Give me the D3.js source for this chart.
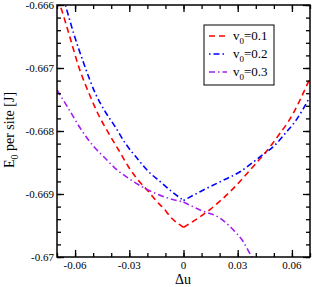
<!DOCTYPE html>
<html>
<head>
<meta charset="utf-8">
<script src="https://cdn.jsdelivr.net/npm/d3@7"></script>
<style>
  body { margin: 0; background: #fff; }
  svg { display: block; }
  text { font-family: "Liberation Serif", "Times New Roman", serif; }
</style>
</head>
<body>
<svg id="chart" width="312" height="287"></svg>
<script>
// values (each curve has a cusp at du = 0)
const red_u = [-0.07, -0.0681, -0.0635, -0.058, -0.0515, -0.047, -0.0414, -0.0359, -0.0304, -0.0249, -0.0193, -0.0147, -0.011, -0.0073, 0, 0.0148, 0.0258, 0.0369, 0.0479, 0.0534, 0.058, 0.07];
const red_e = [-0.66590, -0.666027, -0.666449, -0.666979, -0.667456, -0.667746, -0.668037, -0.668302, -0.668571, -0.668786, -0.668963, -0.669122, -0.669227, -0.669360, -0.669529, -0.669243, -0.668963, -0.668619, -0.668249, -0.668037, -0.667852, -0.667163];

const blue_u = [-0.07, -0.0654, -0.0608, -0.0552, -0.0488, -0.0433, -0.0378, -0.0322, -0.0257, -0.0193, -0.0129, -0.0064, 0, 0.0092, 0.0203, 0.0313, 0.0424, 0.0507, 0.0571, 0.0617, 0.07];
const blue_e = [-0.66560, -0.666000, -0.666449, -0.666925, -0.667402, -0.667694, -0.667932, -0.668195, -0.668433, -0.668646, -0.668805, -0.668963, -0.669103, -0.668963, -0.668805, -0.668646, -0.668408, -0.668222, -0.668011, -0.667852, -0.667456];

const purple_u = [-0.07, -0.0635, -0.0571, -0.0488, -0.0433, -0.0378, -0.0304, -0.023, -0.0156, -0.0083, 0, 0.0092, 0.0203, 0.0276, 0.0331, 0.0378, 0.041];
const purple_e = [-0.667349, -0.667651, -0.667957, -0.668275, -0.668433, -0.668592, -0.668751, -0.668884, -0.668989, -0.669068, -0.669127, -0.669254, -0.669386, -0.669571, -0.669757, -0.669995, -0.67010];

const x_ticks = [-0.06, -0.03, 0, 0.03, 0.06];
const x_labels = ["-0.06", "-0.03", "0", "0.03", "0.06"];
const y_ticks = [-0.666, -0.667, -0.668, -0.669, -0.67];
const y_labels = ["-0.666", "-0.667", "-0.668", "-0.669", "-0.67"];

const series = [
    {name: "0.1", u: red_u, e: red_e, color: "#ff0000", dash: "6,4"},
    {name: "0.2", u: blue_u, e: blue_e, color: "#0000ff", dash: "1.5,3,6,3"},
    {name: "0.3", u: purple_u, e: purple_e, color: "#a020f0", dash: "6,3,1.5,3"}
];

var svg = d3.select("#chart");

var x = d3.scaleLinear()
    .domain([-0.07, 0.07])
    .range([57, 310]);

var y = d3.scaleLinear()
    .domain([-0.67, -0.666])
    .range([257, 5]);

svg.append("clipPath").attr("id", "clip")
    .append("rect")
    .attr("x", 57).attr("y", 5)
    .attr("width", 253).attr("height", 252);

var line = d3.line()
    .x(function(d) { return x(d[0]); })
    .y(function(d) { return y(d[1]); })
    .curve(d3.curveMonotoneX);

// smooth on each side of the cusp, joined at du = 0
function cuspPath(d) {
    var pts = d.u.map(function(u, i) { return [u, d.e[i]]; });
    var left = pts.filter(function(p) { return p[0] <= 0; }),
        right = pts.filter(function(p) { return p[0] >= 0; });
    return line(left) + line(right);
}

svg.append("g")
    .attr("clip-path", "url(#clip)")
    .selectAll("path")
    .data(series)
    .enter().append("path")
    .attr("fill", "none")
    .attr("stroke", function(d) { return d.color; })
    .attr("stroke-width", 1.6)
    .attr("stroke-dasharray", function(d) { return d.dash; })
    .attr("d", cuspPath);

// axes, ticks inward on all four sides
var xMinor = d3.range(-7, 8).map(function(i) { return i / 100; });
var yMinor = d3.range(0, 21).map(function(i) { return -0.67 + i * 0.0002; });

function addAxis(axis, transform, ticks, size) {
    svg.append("g")
        .attr("transform", transform)
        .call(axis.tickValues(ticks).tickSize(size).tickFormat(""))
        .call(function(g) { g.select(".domain").remove(); })
        .selectAll("line").attr("stroke", "#000").attr("stroke-width", 1.3);
}

addAxis(d3.axisTop(x), "translate(0,257)", xMinor, 4);
addAxis(d3.axisTop(x), "translate(0,257)", x_ticks, 7);
addAxis(d3.axisBottom(x), "translate(0,5)", xMinor, 4);
addAxis(d3.axisBottom(x), "translate(0,5)", x_ticks, 7);
addAxis(d3.axisRight(y), "translate(57,0)", yMinor, 4);
addAxis(d3.axisRight(y), "translate(57,0)", y_ticks, 7);
addAxis(d3.axisLeft(y), "translate(310,0)", yMinor, 4);
addAxis(d3.axisLeft(y), "translate(310,0)", y_ticks, 7);

svg.append("rect")
    .attr("x", 57).attr("y", 5)
    .attr("width", 253).attr("height", 252)
    .attr("fill", "none")
    .attr("stroke", "#000")
    .attr("stroke-width", 1.5);

// tick labels
svg.append("g").selectAll("text")
    .data(x_ticks)
    .enter().append("text")
    .attr("x", function(d) { return x(d); })
    .attr("y", 269)
    .attr("text-anchor", "middle")
    .attr("font-size", 11)
    .text(function(d, i) { return x_labels[i]; });

svg.append("g").selectAll("text")
    .data(y_ticks)
    .enter().append("text")
    .attr("x", 54)
    .attr("y", function(d) { return y(d); })
    .attr("dy", "0.35em")
    .attr("text-anchor", "end")
    .attr("font-size", 11)
    .text(function(d, i) { return y_labels[i]; });

// axis titles
svg.append("text")
    .attr("x", 183)
    .attr("y", 284)
    .attr("text-anchor", "middle")
    .attr("font-size", 14)
    .text("Δu");

var ylab = svg.append("text")
    .attr("transform", "translate(14,130) rotate(-90)")
    .attr("text-anchor", "middle")
    .attr("font-size", 14);
ylab.append("tspan").text("E");
ylab.append("tspan").attr("font-size", 10).attr("dy", 4).text("0");
ylab.append("tspan").attr("dy", -4).text(" per site [J]");

// legend
var legend = svg.append("g");
legend.append("rect")
    .attr("x", 204).attr("y", 25)
    .attr("width", 70).attr("height", 60)
    .attr("fill", "#fff")
    .attr("stroke", "#000")
    .attr("stroke-width", 1);

var item = legend.selectAll("g.item")
    .data(series)
    .enter().append("g")
    .attr("transform", function(d, i) { return "translate(0," + (36 + i * 18) + ")"; });

item.append("line")
    .attr("x1", 209).attr("x2", 227)
    .attr("y1", 0).attr("y2", 0)
    .attr("stroke", function(d) { return d.color; })
    .attr("stroke-width", 1.6)
    .attr("stroke-dasharray", function(d) { return d.dash; });

var lt = item.append("text")
    .attr("x", 233)
    .attr("y", 4)
    .attr("font-size", 13);
lt.append("tspan").text("v");
lt.append("tspan").attr("font-size", 9).attr("dy", 4).text("0");
lt.append("tspan").attr("dy", -4).text(function(d) { return "=" + d.name; });
</script>
</body>
</html>
